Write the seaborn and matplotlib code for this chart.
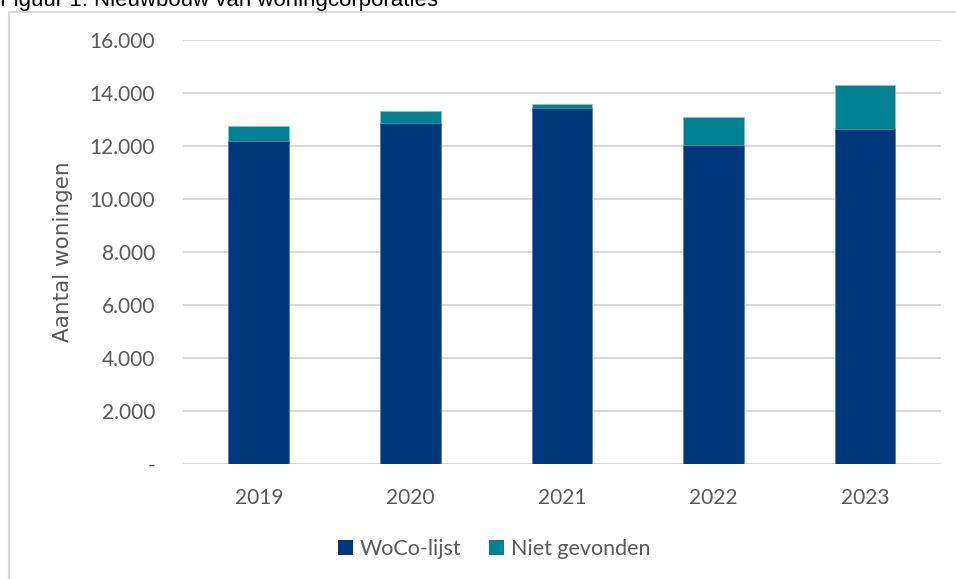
import matplotlib
matplotlib.use("Agg")
import matplotlib.pyplot as plt
from matplotlib.patches import Rectangle, Patch
from matplotlib.ticker import FuncFormatter
import seaborn as sns
import pandas as pd

years = ["2019", "2020", "2021", "2022", "2023"]
woco_lijst = [12200, 12855, 13450, 12050, 12655]
niet_gevonden = [570, 475, 135, 1045, 1660]

NAVY = "#00377B"
TEAL = "#008294"
GREY_TEXT = "#595959"
GRID = "#D9D9D9"

sns.set_theme(style="white")
plt.rcParams["font.family"] = ["Lato", "DejaVu Sans"]

df = pd.DataFrame({
    "jaar": years,
    "WoCo-lijst": woco_lijst,
    "Niet gevonden": niet_gevonden,
})
df["totaal"] = df["WoCo-lijst"] + df["Niet gevonden"]

fig = plt.figure(figsize=(9.56, 5.79), dpi=100)
ax = fig.add_axes([0.1914, 0.1986, 0.7926, 0.7324])

# stacked bars: total in teal, WoCo-lijst drawn over it
sns.barplot(data=df, x="jaar", y="totaal", color=TEAL, width=0.4,
            edgecolor="#7FC4CC", linewidth=0.6, ax=ax, saturation=1, zorder=3)
sns.barplot(data=df, x="jaar", y="WoCo-lijst", color=NAVY, width=0.4,
            edgecolor="#5C84B5", linewidth=0.6, ax=ax, saturation=1, zorder=4)

ax.set_xlim(-0.5, 4.5)
ax.set_ylim(0, 16000)
ax.set_yticks(range(0, 16001, 2000))


def fmt(v, pos):
    if v == 0:
        return "-"
    return f"{int(v):,}".replace(",", ".")


ax.yaxis.set_major_formatter(FuncFormatter(fmt))
ax.grid(axis="y", color=GRID, linewidth=1.5, zorder=0)
ax.set_axisbelow(True)
for s in ax.spines.values():
    s.set_visible(False)
ax.tick_params(axis="both", length=0, labelsize=15, labelcolor=GREY_TEXT)
ax.tick_params(axis="y", pad=20)
ax.tick_params(axis="x", pad=17)
ax.set_xlabel("")
ax.set_ylabel("Aantal woningen", fontsize=15.5, color=GREY_TEXT,
              family=["DejaVu Sans"], fontweight="normal")
ax.yaxis.set_label_coords(-0.145, 0.5)

handles = [Patch(facecolor=NAVY, edgecolor="none", label="WoCo-lijst"),
           Patch(facecolor=TEAL, edgecolor="none", label="Niet gevonden")]
leg = fig.legend(handles=handles, loc="center", bbox_to_anchor=(0.517, 0.052),
                 ncol=2, frameon=False, fontsize=15.5, handlelength=0.7,
                 handleheight=0.7, handletextpad=0.3, columnspacing=1.3)
for t in leg.get_texts():
    t.set_color(GREY_TEXT)

# chart frame
fig.patches.append(Rectangle((9 / 956, -0.05), 1.2, 1 - 12 / 579 + 0.05,
                             transform=fig.transFigure, fill=False,
                             edgecolor=GRID, linewidth=1.5))

fig.text(0.0, 1 - 6 / 579, "Figuur 1: Nieuwbouw van woningcorporaties",
         fontsize=16, family=["Liberation Sans", "DejaVu Sans"],
         color="black", va="baseline", ha="left")

fig.savefig("out.png", dpi=100, facecolor="white")
